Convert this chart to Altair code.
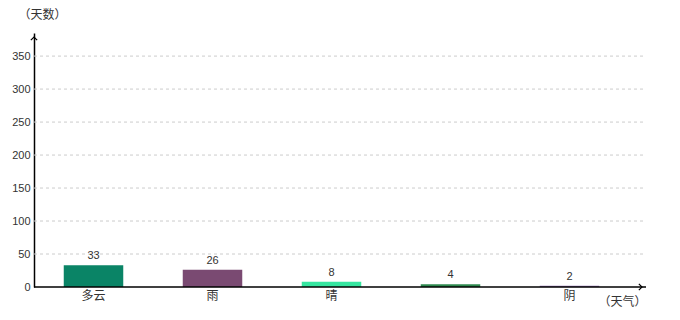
import altair as alt
import pandas as pd

categories = ["多云", "雨", "晴", " ", "阴"]
days = [33, 26, 8, 4, 2]
colors = ["#0a8466", "#7a4a72", "#35e6a0", "#2f8a50", "#8e6fb0"]
y_ticks = [0, 50, 100, 150, 200, 250, 300, 350]

df = pd.DataFrame({"weather": categories, "days": days, "color": colors})
grid_df = pd.DataFrame({"v": y_ticks[1:]})

W, H = 611, 254
FONT_NUM = "Liberation Sans"
FONT_CJK = "Noto Sans CJK SC"

x_scale = alt.Scale(domain=categories, range=[0, 595], paddingInner=0.5, paddingOuter=0.25)
y_scale = alt.Scale(domain=[0, 385], nice=False)

y_axis = alt.Axis(values=y_ticks, title="（天数）", titleAngle=0, titleX=-16,
                  titleY=-12, titleAlign="left", titleBaseline="bottom",
                  titleFont=FONT_CJK, titleFontSize=12, titleFontWeight="normal",
                  titleColor="#333", labelFont=FONT_NUM, labelFontSize=11,
                  labelColor="#333", ticks=False, labelPadding=4, labelOverlap=False,
                  domainColor="#000", domainWidth=1.5, grid=False)

base = alt.Chart(df)

grid = alt.Chart(grid_df).mark_rule(color="#cccccc", strokeDash=[3, 3], strokeWidth=1).encode(
    x=alt.value(0), x2=alt.value(W), y=alt.Y("v:Q", scale=y_scale, axis=y_axis)
)

bars = base.mark_bar().encode(
    x=alt.X("weather:N", scale=x_scale, sort=categories,
            axis=alt.Axis(title="（天气）", titleX=564, titleY=21, titleAlign="left",
                          titleBaseline="bottom",
                          titleFont=FONT_CJK, titleFontSize=12, titleFontWeight="normal",
                          titleColor="#333", labelAngle=0, labelFont=FONT_CJK,
                          labelFontSize=12, labelColor="#333", ticks=False, domain=False,
                          labelPadding=3, grid=False)),
    y=alt.Y("days:Q", scale=y_scale, axis=y_axis),
    color=alt.Color("color:N", scale=None),
)

labels = base.mark_text(baseline="bottom", dy=-4, font=FONT_NUM, fontSize=11, color="#333").encode(
    x=alt.X("weather:N", scale=x_scale, sort=categories),
    y=alt.Y("days:Q", scale=y_scale, axis=y_axis),
    text="days:Q",
)

x_line = alt.Chart(pd.DataFrame({"v": [0]})).mark_rule(color="#000", strokeWidth=1.5).encode(
    x=alt.value(0), x2=alt.value(W + 1), y=alt.Y("v:Q", scale=y_scale, axis=y_axis)
)

y_arrow = alt.Chart(pd.DataFrame({"v": [0]})).mark_point(
    shape="M-1,1 L0,0 L1,1", filled=False, color="#000", strokeWidth=1.2, size=40, opacity=1
).encode(x=alt.value(0), y=alt.value(4))

x_arrow = alt.Chart(pd.DataFrame({"v": [0]})).mark_point(
    shape="M-1,-1 L0,0 L-1,1", filled=False, color="#000", strokeWidth=1.2, size=40, opacity=1
).encode(x=alt.value(W - 3), y=alt.Y("v:Q", scale=y_scale, axis=y_axis))

chart = alt.layer(grid, bars, labels, x_line, y_arrow, x_arrow).properties(
    width=W, height=H, autosize="none",
    padding={"left": 34, "top": 33, "right": 35, "bottom": 33},
).configure(background="#ffffff").configure_view(stroke=None)

chart.save("out.html", embed_options={"renderer": "svg", "actions": False})
